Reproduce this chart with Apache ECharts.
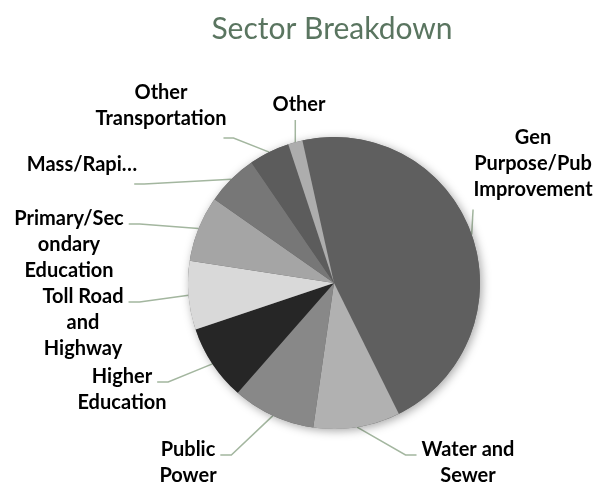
<!DOCTYPE html>
<html>
<head>
<meta charset="utf-8">
<script src="https://cdn.jsdelivr.net/npm/echarts@6/dist/echarts.min.js"></script>
<style>
  html, body, #main { width: 100%; height: 100%; margin: 0; background: #fff; }
</style>
</head>
<body>
<div id="main"></div>
<script>
// sector shares (percent)
var sectors = ['Gen Purpose/Pub Improvement', 'Water and Sewer', 'Public Power', 'Higher Education',
  'Toll Road and Highway', 'Primary/Secondary Education', 'Mass/Rapid Transit', 'Other Transportation', 'Other'];
var shares = [46.2, 9.6, 9.2, 8.4, 7.6, 7.3, 5.7, 4.5, 1.6];
// label text as wrapped in the original
var labelText = ['Gen\nPurpose/Pub\nImprovement', 'Water and\nSewer', 'Public\nPower', 'Higher\nEducation',
  'Toll Road\nand\nHighway', 'Primary/Sec\nondary\nEducation', 'Mass/Rapi\u2026', 'Other\nTransportation', 'Other'];

var colors = ['#5f5f5f', '#b1b1b1', '#888888', '#262626', '#d9d9d9', '#a5a5a5', '#777777', '#5c5c5c', '#adadad'];

var CENTER = [334, 283];
var RADIUS = 146;
var FONT = 'bold 20px Lato';
var LINE_H = 26;

// label placement: centre of the text block and where the leader line attaches
var labelPlace = [
  { x: 533, y: 164, side: 'edge' },
  { x: 468, y: 463, side: 'right' },
  { x: 188, y: 463, side: 'left' },
  { x: 122, y: 390, side: 'left' },
  { x: 83, y: 323, side: 'left' },
  { x: 69, y: 245, side: 'left' },
  { x: 82, y: 165, side: 'below' },
  { x: 161, y: 106, side: 'below' },
  { x: 299, y: 105, side: 'up' }
];

var ctx = document.createElement('canvas').getContext('2d');
ctx.font = FONT;
function textW(s) { return ctx.measureText(s).width; }

var total = shares.reduce(function (a, b) { return a + b; }, 0);

var chart = echarts.init(document.getElementById('main'));

chart.setOption({
  backgroundColor: '#fff',
  animation: false,
  title: {
    text: 'Sector Breakdown',
    left: 327,
    top: 9,
    textAlign: 'center',
    textStyle: { fontFamily: 'Lato', fontWeight: 'normal', fontSize: 30, color: '#5a7560' }
  },
  series: [{
    // backing disc that carries the soft shadow
    type: 'pie',
    silent: true,
    center: CENTER,
    radius: RADIUS,
    label: { show: false },
    labelLine: { show: false },
    itemStyle: {
      color: '#5f5f5f',
      shadowBlur: 10,
      shadowColor: 'rgba(0,0,0,0.35)',
      shadowOffsetX: 2,
      shadowOffsetY: 2
    },
    data: [total]
  }, {
    type: 'pie',
    center: CENTER,
    radius: RADIUS,
    startAngle: 102.5,
    clockwise: true,
    avoidLabelOverlap: false,
    itemStyle: { borderWidth: 0 },
    label: {
      show: true,
      position: 'outside',
      fontFamily: 'Lato',
      fontWeight: 'bold',
      fontSize: 20,
      lineHeight: LINE_H,
      color: '#000',
      formatter: function (p) { return labelText[p.dataIndex]; }
    },
    labelLine: {
      show: true,
      length: 10,
      length2: 10,
      lineStyle: { color: '#a3b69f', width: 1.5 }
    },
    labelLayout: function (params) {
      var i = params.dataIndex;
      var pl = labelPlace[i];
      var lines = labelText[i].split('\n');
      var h = lines.length * LINE_H;
      var top = pl.y - h / 2;
      var w1 = textW(lines[0]);
      var wMax = Math.max.apply(null, lines.map(textW));
      var start = params.labelLinePoints ? params.labelLinePoints[0] : CENTER;
      var pts;
      if (pl.side === 'left') {
        var e = [pl.x + w1 / 2 + 5, top + LINE_H / 2 + 5];
        pts = [start, [e[0] + 11, e[1]], e];
      } else if (pl.side === 'right') {
        var e2 = [pl.x - w1 / 2 - 5, top + LINE_H / 2 + 5];
        pts = [start, [e2[0] - 11, e2[1]], e2];
      } else if (pl.side === 'below') {
        var e3 = [pl.x + wMax / 2 - 3, top + h + 6];
        pts = [start, [e3[0] + 10, e3[1]], e3];
      } else if (pl.side === 'up') {
        var e4 = [start[0], top + h + 2];
        pts = [start, e4, e4];
      } else {
        var tx = pl.x - wMax / 2, ty = top + h;
        var dx = tx - start[0], dy = ty - start[1];
        var d = Math.sqrt(dx * dx + dy * dy);
        var e5 = [start[0] + dx / d * 25, start[1] + dy / d * 25];
        pts = [start, e5, e5];
      }
      return {
        x: pl.x,
        y: pl.y,
        align: 'center',
        verticalAlign: 'middle',
        labelLinePoints: pts
      };
    },
    data: sectors.map(function (name, i) {
      return { name: name, value: shares[i], itemStyle: { color: colors[i] } };
    })
  }]
});
</script>
</body>
</html>
